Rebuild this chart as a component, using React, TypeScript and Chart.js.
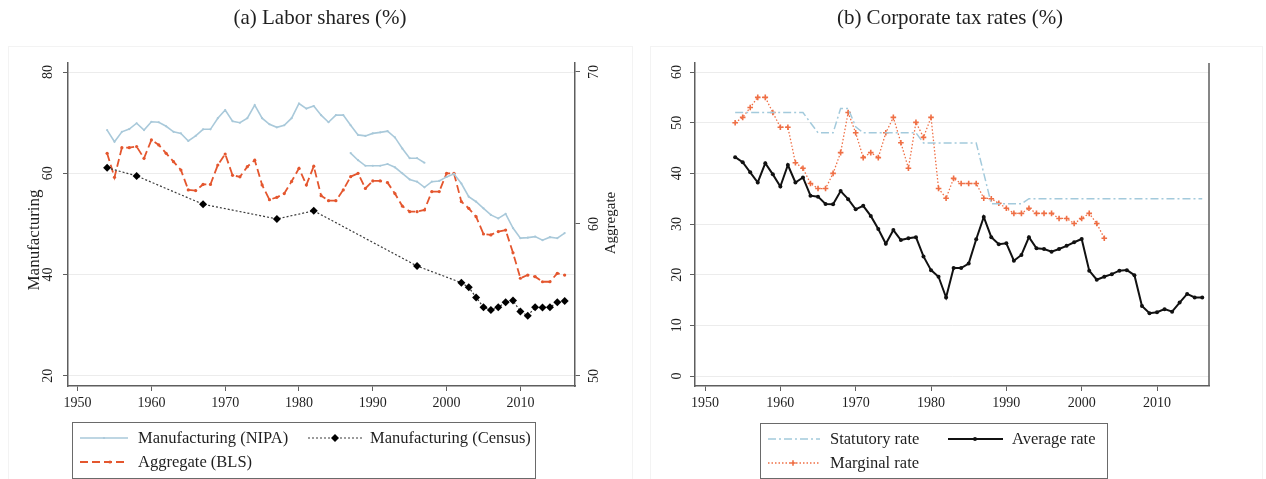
import React, { useEffect, useRef } from "react";
import { Chart, registerables } from "chart.js";

Chart.register(...registerables);

const SERIF = '"Liberation Serif", "Times New Roman", Times, serif';
const TEXT = "#1f1f1f";
const AXIS = "#5e5e5e";
const GRID = "#ececec";

const yearSpan = (from: number, to: number): number[] => {
  const out: number[] = [];
  for (let y = from; y <= to; y++) out.push(y);
  return out;
};

// ---- Panel (a): labor shares (%) ----
const nipaEarlyYears = yearSpan(1954, 1997);
const nipaEarlyShare = [
  68.55, 66.25, 68.2, 68.75, 69.9, 68.55, 70.2, 70.1, 69.3, 68.2,
  67.9, 66.4, 67.4, 68.7, 68.7, 70.9, 72.5, 70.3, 70.0, 70.9,
  73.5, 70.9, 69.7, 69.1, 69.5, 70.9, 73.8, 72.8, 73.3, 71.5,
  70.1, 71.5, 71.5, 69.5, 67.6, 67.4, 67.9, 68.1, 68.35, 67.1,
  64.9, 63.0, 63.0, 62.1,
];
const nipaLateYears = yearSpan(1987, 2016);
const nipaLateShare = [
  64.0, 62.6, 61.5, 61.5, 61.5, 61.85, 61.2, 60.0, 58.8, 58.35,
  57.25, 58.35, 58.5, 59.3, 59.9, 58.0, 55.4, 54.4, 53.1, 51.8,
  51.1, 52.0, 49.2, 47.2, 47.3, 47.5, 46.8, 47.4, 47.2, 48.2,
];
const censusYears = [
  1954, 1958, 1967, 1977, 1982, 1996, 2002, 2003, 2004, 2005,
  2006, 2007, 2008, 2009, 2010, 2011, 2012, 2013, 2014, 2015, 2016,
];
const censusShare = [
  61.1, 59.5, 53.9, 51.0, 52.6, 41.7, 38.4, 37.5, 35.5, 33.55,
  33.0, 33.55, 34.55, 34.9, 32.7, 31.9, 33.55, 33.5, 33.55, 34.55, 34.8,
];
const blsYears = yearSpan(1954, 2016);
const blsShare = [
  64.65, 63.07, 65.02, 65.02, 65.09, 64.32, 65.53, 65.2, 64.65, 64.1,
  63.55, 62.24, 62.2, 62.6, 62.6, 63.88, 64.6, 63.2, 63.1, 63.77,
  64.2, 62.57, 61.6, 61.75, 62.0, 62.8, 63.66, 62.57, 63.8, 61.86,
  61.53, 61.53, 62.24, 63.11, 63.33, 62.34, 62.83, 62.83, 62.72, 62.0,
  61.18, 60.81, 60.81, 60.92, 62.13, 62.13, 63.33, 63.33, 61.47, 61.03,
  60.48, 59.34, 59.28, 59.5, 59.6, 58.1, 56.43, 56.64, 56.53, 56.2,
  56.2, 56.75, 56.64,
];

// ---- Panel (b): corporate tax rates (%) ----
const taxYears = yearSpan(1954, 2016);
const statutoryRate = [
  52, 52, 52, 52, 52, 52, 52, 52, 52, 52,
  50, 48, 48, 48, 52.8, 52.8, 49.2, 48, 48, 48,
  48, 48, 48, 48, 48, 46, 46, 46, 46, 46,
  46, 46, 46, 40, 34, 34, 34, 34, 34, 35,
  35, 35, 35, 35, 35, 35, 35, 35, 35, 35,
  35, 35, 35, 35, 35, 35, 35, 35, 35, 35,
  35, 35, 35,
];
const averageRate = [
  43.2, 42.2, 40.2, 38.2, 42.0, 39.8, 37.4, 41.65, 38.2, 39.2,
  35.6, 35.4, 33.95, 33.9, 36.5, 34.9, 32.9, 33.6, 31.6, 29.0,
  26.1, 28.8, 26.84, 27.2, 27.4, 23.6, 20.9, 19.6, 15.5, 21.3,
  21.3, 22.2, 27.0, 31.4, 27.4, 26.0, 26.2, 22.75, 23.9, 27.4,
  25.2, 25.07, 24.55, 25.07, 25.7, 26.4, 27.05, 20.8, 19.0, 19.6,
  20.1, 20.8, 20.9, 19.9, 13.8, 12.4, 12.6, 13.2, 12.7, 14.5,
  16.2, 15.5, 15.5,
];
const marginalYears = yearSpan(1954, 2003);
const marginalRate = [
  50.0, 51.05, 53.0, 55.0, 55.0, 52.0, 49.1, 49.1, 42.1, 41.0,
  38.0, 37.0, 37.0, 40.0, 44.1, 52.0, 48.0, 43.1, 44.1, 43.1,
  48.0, 51.05, 46.05, 41.0, 50.07, 47.1, 51.05, 37.0, 35.1, 39.0,
  38.0, 38.0, 38.0, 35.1, 35.0, 34.1, 33.1, 32.1, 32.1, 33.1,
  32.1, 32.1, 32.1, 31.1, 31.1, 30.1, 31.1, 32.1, 30.1, 27.2,
];

// ---- tick labels ----
const yearTicks = [1950, 1960, 1970, 1980, 1990, 2000, 2010];
const manufacturingTicks = [20, 40, 60, 80];
const aggregateTicks = [50, 60, 70];
const taxTicks = [0, 10, 20, 30, 40, 50, 60];

const pairs = (xs: number[], ys: number[]) => xs.map((x, i) => ({ x, y: ys[i] }));

const tickFont = { family: SERIF, size: 14 };

function fixedTicks(values: number[]) {
  return (scale: any) => {
    scale.ticks = values.map((v) => ({ value: v }));
  };
}
function fixWidth(w: number) {
  return (scale: any) => {
    scale.width = w;
  };
}
function fixHeight(h: number) {
  return (scale: any) => {
    scale.height = h;
  };
}

function yearAxis(min: number, max: number) {
  return {
    type: "linear",
    position: "bottom",
    min,
    max,
    afterBuildTicks: fixedTicks(yearTicks),
    afterFit: fixHeight(93),
    grid: { drawOnChartArea: false, drawTicks: true, tickLength: 5, tickColor: AXIS, tickWidth: 1 },
    border: { display: true, color: AXIS, width: 1.5 },
    ticks: { color: TEXT, font: tickFont, padding: 4, maxRotation: 0, minRotation: 0, autoSkip: false, callback: (v: any) => String(v) },
  };
}

function valueAxis(opts: {
  position: string;
  min: number;
  max: number;
  ticks: number[];
  width: number;
  padding: number;
  grid: boolean;
}) {
  return {
    type: "linear",
    position: opts.position,
    min: opts.min,
    max: opts.max,
    afterBuildTicks: fixedTicks(opts.ticks),
    afterFit: fixWidth(opts.width),
    grid: {
      drawOnChartArea: opts.grid,
      color: GRID,
      lineWidth: 1,
      drawTicks: true,
      tickLength: 5,
      tickColor: AXIS,
      tickWidth: 1,
    },
    border: { display: true, color: AXIS, width: 1.5 },
    ticks: {
      color: TEXT,
      font: tickFont,
      padding: opts.padding,
      minRotation: 90,
      maxRotation: 90,
      crossAlign: "center",
      autoSkip: false,
      callback: (v: any) => String(v),
    },
  };
}

// ---- canvas helpers for the decorations ----
function drawMarker(ctx: CanvasRenderingContext2D, ds: any, x: number, y: number) {
  const r = ds.pointRadius || 0;
  if (!r) return;
  ctx.save();
  ctx.setLineDash([]);
  ctx.fillStyle = ds.pointBackgroundColor || ds.borderColor;
  ctx.strokeStyle = ds.pointBorderColor || ds.borderColor;
  ctx.lineWidth = ds.pointBorderWidth || 1;
  ctx.beginPath();
  if (ds.pointStyle === "rectRot") {
    ctx.moveTo(x, y - r);
    ctx.lineTo(x + r, y);
    ctx.lineTo(x, y + r);
    ctx.lineTo(x - r, y);
    ctx.closePath();
    ctx.fill();
  } else if (ds.pointStyle === "cross") {
    ctx.moveTo(x - r, y);
    ctx.lineTo(x + r, y);
    ctx.moveTo(x, y - r);
    ctx.lineTo(x, y + r);
    ctx.stroke();
  } else {
    ctx.arc(x, y, r, 0, Math.PI * 2);
    ctx.fill();
  }
  ctx.restore();
}

type LegendItem = { ds: number; label: string; x0: number; x1: number; mx: number; y: number; tx: number };
type Decor = {
  title: string;
  titleX: number;
  frame: [number, number, number, number];
  box: [number, number, number, number];
  items: LegendItem[];
  axisTitles: { text: string; x: number; y: number; size: number }[];
  rightBorder?: boolean;
};

function decorPlugin(d: Decor) {
  return {
    id: "panelDecor",
    beforeDraw(chart: any) {
      const ctx: CanvasRenderingContext2D = chart.ctx;
      ctx.save();
      ctx.fillStyle = "#ffffff";
      ctx.fillRect(0, 0, chart.width, chart.height);
      ctx.strokeStyle = "#f3f3f3";
      ctx.lineWidth = 1;
      const [fx, fy, fw, fh] = d.frame;
      ctx.strokeRect(fx + 0.5, fy + 0.5, fw, fh);
      ctx.restore();
    },
    afterDraw(chart: any) {
      const ctx: CanvasRenderingContext2D = chart.ctx;
      ctx.save();
      // panel title
      ctx.fillStyle = TEXT;
      ctx.font = `21px ${SERIF}`;
      ctx.textAlign = "center";
      ctx.textBaseline = "middle";
      ctx.fillText(d.title, d.titleX, 18);

      // axis titles (rotated)
      for (const t of d.axisTitles) {
        ctx.save();
        ctx.translate(t.x, t.y);
        ctx.rotate(-Math.PI / 2);
        ctx.font = `${t.size}px ${SERIF}`;
        ctx.textAlign = "center";
        ctx.textBaseline = "middle";
        ctx.fillText(t.text, 0, 0);
        ctx.restore();
      }

      if (d.rightBorder) {
        const a = chart.chartArea;
        ctx.strokeStyle = AXIS;
        ctx.lineWidth = 1.5;
        ctx.beginPath();
        ctx.moveTo(a.right, a.top);
        ctx.lineTo(a.right, a.bottom);
        ctx.stroke();
      }

      // legend
      const [bx, by, bw, bh] = d.box;
      ctx.strokeStyle = "#6a6a6a";
      ctx.lineWidth = 1;
      ctx.strokeRect(bx + 0.5, by + 0.5, bw, bh);
      for (const it of d.items) {
        const ds = chart.data.datasets[it.ds];
        ctx.save();
        ctx.strokeStyle = ds.borderColor;
        ctx.lineWidth = ds.borderWidth;
        ctx.setLineDash(ds.borderDash || []);
        ctx.beginPath();
        ctx.moveTo(it.x0, it.y);
        ctx.lineTo(it.x1, it.y);
        ctx.stroke();
        ctx.restore();
        drawMarker(ctx, ds, it.mx, it.y);
        ctx.fillStyle = TEXT;
        ctx.font = `16.5px ${SERIF}`;
        ctx.textAlign = "left";
        ctx.textBaseline = "middle";
        ctx.fillText(it.label, it.tx, it.y + 1);
      }
      ctx.restore();
    },
  };
}

// ---- chart configurations ----
function laborConfig(): any {
  const nipaStyle = {
    borderColor: "#a9c9da",
    borderWidth: 1.6,
    pointRadius: 1.1,
    pointBackgroundColor: "#a9c9da",
    pointBorderWidth: 0,
    yAxisID: "y",
  };
  return {
    type: "line",
    data: {
      datasets: [
        { label: "Manufacturing (NIPA)", data: pairs(nipaEarlyYears, nipaEarlyShare), ...nipaStyle },
        { label: "Manufacturing (NIPA)", data: pairs(nipaLateYears, nipaLateShare), ...nipaStyle },
        {
          label: "Manufacturing (Census)",
          data: pairs(censusYears, censusShare),
          borderColor: "#3a3a3a",
          borderWidth: 1.2,
          borderDash: [2, 2],
          pointStyle: "rectRot",
          pointRadius: 4,
          pointBackgroundColor: "#000000",
          pointBorderColor: "#000000",
          pointBorderWidth: 0,
          yAxisID: "y",
        },
        {
          label: "Aggregate (BLS)",
          data: pairs(blsYears, blsShare),
          borderColor: "#e4562e",
          borderWidth: 1.8,
          borderDash: [8, 4],
          pointRadius: 1.6,
          pointBackgroundColor: "#e4562e",
          pointBorderWidth: 0,
          yAxisID: "y2",
        },
      ],
    },
    options: {
      responsive: false,
      animation: false,
      events: [],
      layout: { padding: { top: 63, left: 0, right: 0, bottom: 0 } },
      plugins: { legend: { display: false }, title: { display: false }, tooltip: { enabled: false } },
      elements: { line: { tension: 0 } },
      scales: {
        x: yearAxis(1948.7, 2017.4),
        y: valueAxis({ position: "left", min: 18.0, max: 81.8, ticks: manufacturingTicks, width: 68, padding: 8, grid: true }),
        y2: valueAxis({ position: "right", min: 49.34, max: 70.59, ticks: aggregateTicks, width: 58, padding: 7, grid: false }),
      },
    },
    plugins: [
      decorPlugin({
        title: "(a) Labor shares (%)",
        titleX: 320,
        frame: [8, 46, 624, 440],
        box: [72, 422, 463, 56],
        axisTitles: [
          { text: "Manufacturing", x: 35, y: 240, size: 17 },
          { text: "Aggregate", x: 611, y: 223, size: 15 },
        ],
        items: [
          { ds: 0, label: "Manufacturing (NIPA)", x0: 80, x1: 128, mx: 104, y: 438, tx: 138 },
          { ds: 2, label: "Manufacturing (Census)", x0: 308, x1: 362, mx: 335, y: 438, tx: 370 },
          { ds: 3, label: "Aggregate (BLS)", x0: 80, x1: 128, mx: 110, y: 462, tx: 138 },
        ],
      }),
    ],
  };
}

function taxConfig(): any {
  return {
    type: "line",
    data: {
      datasets: [
        {
          label: "Statutory rate",
          data: pairs(taxYears, statutoryRate),
          borderColor: "#a3cadc",
          borderWidth: 1.5,
          borderDash: [8, 3, 2, 3],
          pointRadius: 0,
        },
        {
          label: "Average rate",
          data: pairs(taxYears, averageRate),
          borderColor: "#111111",
          borderWidth: 2,
          pointRadius: 2,
          pointBackgroundColor: "#111111",
          pointBorderWidth: 0,
        },
        {
          label: "Marginal rate",
          data: pairs(marginalYears, marginalRate),
          borderColor: "#ef6f45",
          borderWidth: 1.3,
          borderDash: [1.5, 2],
          pointStyle: "cross",
          pointRadius: 2.8,
          pointBorderColor: "#ef6f45",
          pointBorderWidth: 1.6,
        },
      ],
    },
    options: {
      responsive: false,
      animation: false,
      events: [],
      layout: { padding: { top: 63, left: 0, right: 0, bottom: 0 } },
      plugins: { legend: { display: false }, title: { display: false }, tooltip: { enabled: false } },
      elements: { line: { tension: 0 } },
      scales: {
        x: yearAxis(1948.67, 2016.9),
        y: valueAxis({ position: "left", min: -1.97, max: 61.78, ticks: taxTicks, width: 62, padding: 6, grid: true }),
        yEdge: {
          type: "linear",
          position: "right",
          min: 0,
          max: 1,
          afterFit: fixWidth(57),
          grid: { display: false, drawTicks: false },
          border: { display: false },
          ticks: { display: false },
        },
      },
    },
    plugins: [
      decorPlugin({
        title: "(b) Corporate tax rates (%)",
        titleX: 317,
        frame: [17, 46, 612, 440],
        box: [127, 423, 347, 55],
        rightBorder: true,
        axisTitles: [],
        items: [
          { ds: 0, label: "Statutory rate", x0: 135, x1: 187, mx: 161, y: 439, tx: 197 },
          { ds: 1, label: "Average rate", x0: 315, x1: 370, mx: 342, y: 439, tx: 379 },
          { ds: 2, label: "Marginal rate", x0: 135, x1: 187, mx: 160, y: 463, tx: 197 },
        ],
      }),
    ],
  };
}

function ChartPanel({ make, left }: { make: () => any; left: number }) {
  const ref = useRef<HTMLCanvasElement | null>(null);
  useEffect(() => {
    if (!ref.current) return;
    const chart = new Chart(ref.current, make());
    return () => chart.destroy();
  }, [make]);
  return (
    <canvas
      ref={ref}
      width={633}
      height={479}
      style={{ position: "absolute", left, top: 0, width: 633, height: 479, display: "block" }}
    />
  );
}

export default function App() {
  return (
    <div style={{ position: "absolute", left: 0, top: 0, width: 1266, height: 479, background: "#ffffff", overflow: "hidden" }}>
      <ChartPanel make={laborConfig} left={0} />
      <ChartPanel make={taxConfig} left={633} />
    </div>
  );
}
